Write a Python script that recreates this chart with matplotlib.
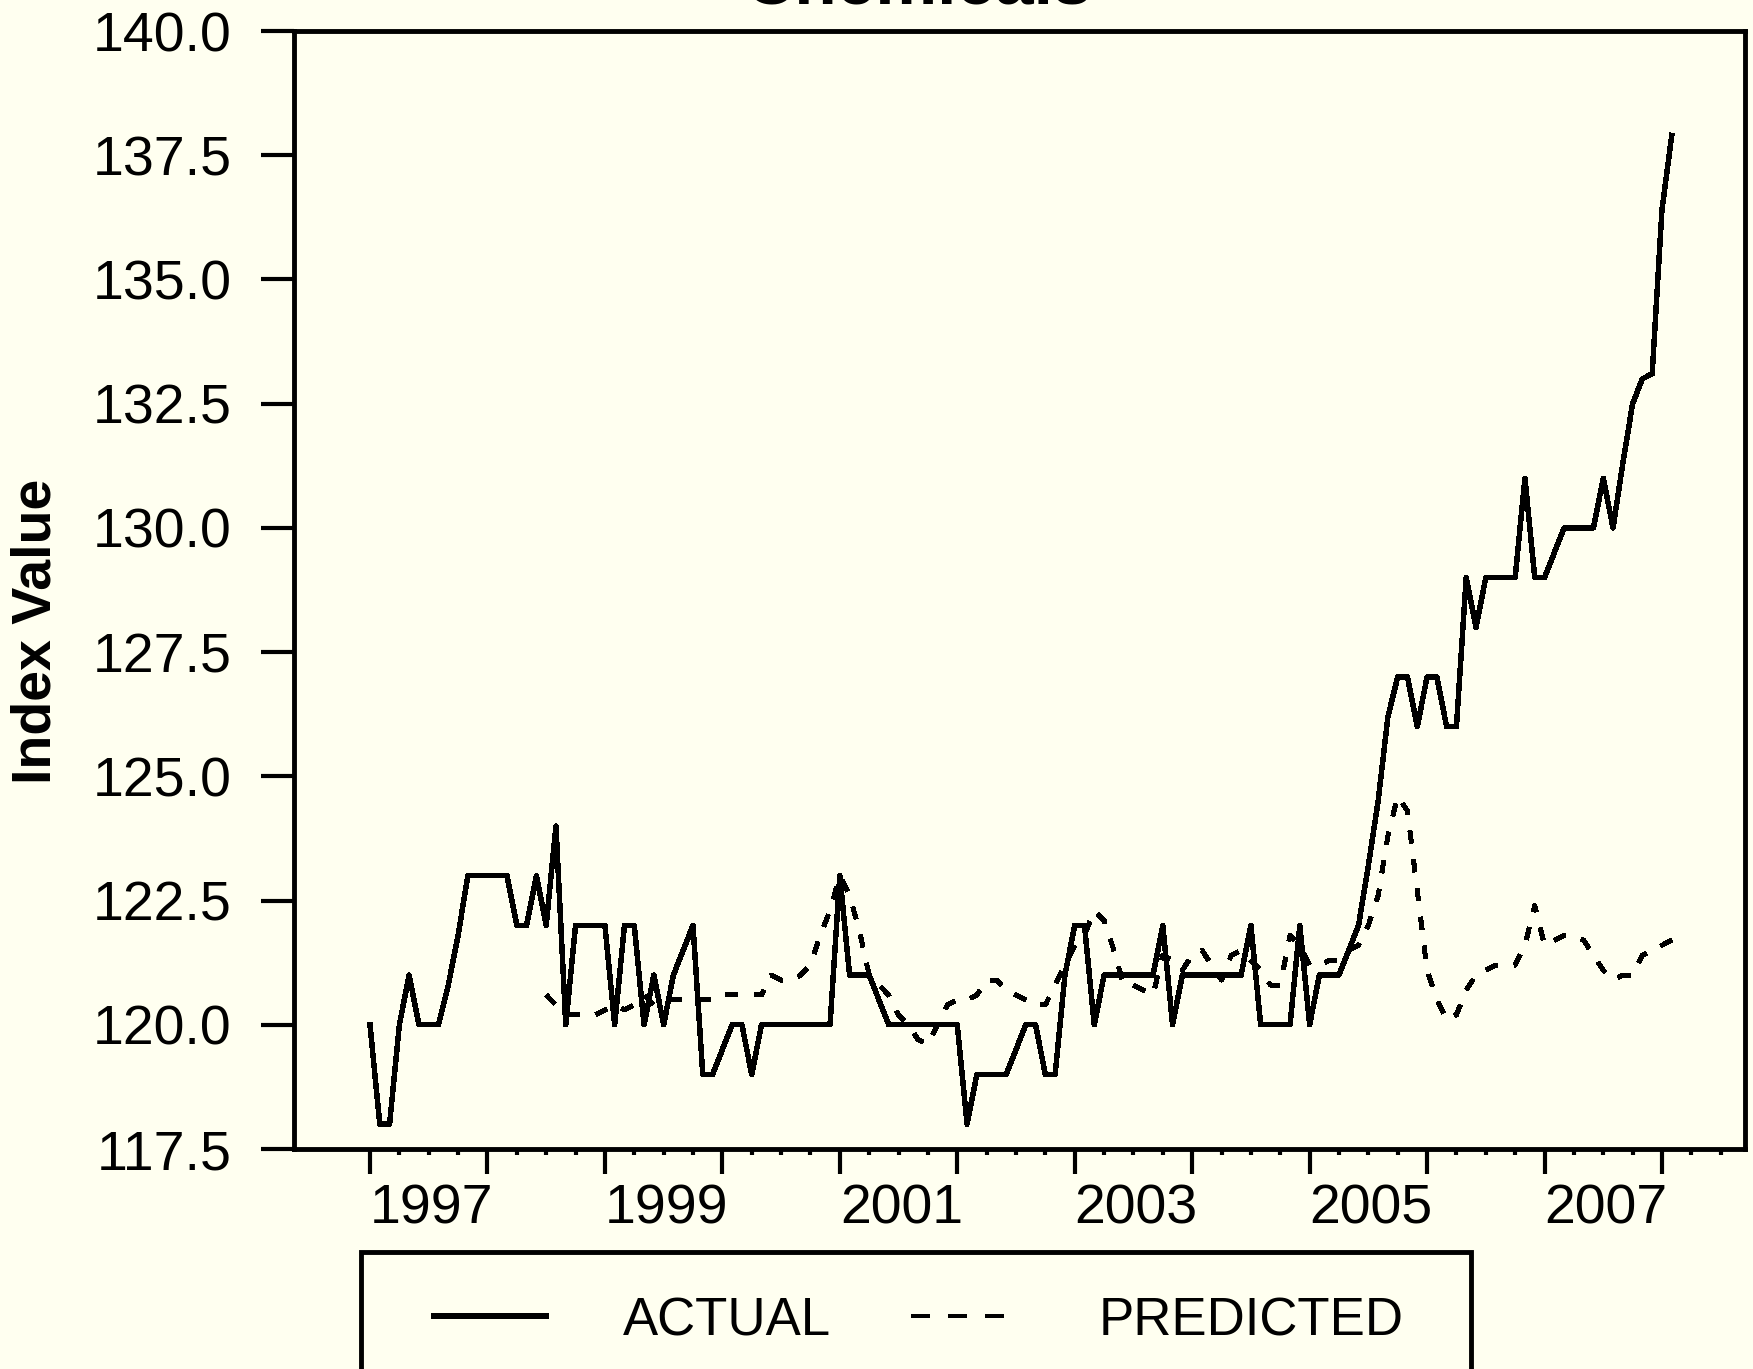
import numpy as np
import matplotlib.pyplot as plt
from matplotlib.lines import Line2D
from matplotlib.patches import Rectangle

# monthly index values, Jan 1997 .. Feb 2008
start_year = 1997
actual = [
    120, 118, 118, 120, 121, 120, 120, 120, 120.8, 121.8, 123, 123,          # 1997
    123, 123, 123, 122, 122, 123, 122, 124, 120, 122, 122, 122,              # 1998
    122, 120, 122, 122, 120, 121, 120, 121, 121.5, 122, 119, 119,            # 1999
    119.5, 120, 120, 119, 120, 120, 120, 120, 120, 120, 120, 120,            # 2000
    123, 121, 121, 121, 120.5, 120, 120, 120, 120, 120, 120, 120,            # 2001
    120, 118, 119, 119, 119, 119, 119.5, 120, 120, 119, 119, 121,            # 2002
    122, 122, 120, 121, 121, 121, 121, 121, 121, 122, 120, 121,              # 2003
    121, 121, 121, 121, 121, 121, 122, 120, 120, 120, 120, 122,              # 2004
    120, 121, 121, 121, 121.5, 122, 123.2, 124.5, 126.2, 127, 127, 126,      # 2005
    127, 127, 126, 126, 129, 128, 129, 129, 129, 129, 131, 129,              # 2006
    129, 129.5, 130, 130, 130, 130, 131, 130, 131.3, 132.5, 133, 133.1,      # 2007
    136.4, 137.9,                                                            # 2008
]
nan = np.nan
predicted = [
    nan, nan, nan, nan, nan, nan, nan, nan, nan, nan, nan, nan,
    nan, nan, nan, nan, nan, nan, 120.6, 120.4, 120.2, 120.2, 120.2, 120.2,
    120.3, 120.4, 120.3, 120.4, 120.6, 120.4, 120.5, 120.5, 120.5, 120.5, 120.5, 120.5,
    120.6, 120.6, 120.6, 120.6, 120.6, 121.0, 120.9, 120.9, 121.0, 121.2, 121.8, 122.3,
    123.0, 122.6, 121.9, 121.0, 120.8, 120.6, 120.2, 120.0, 119.7, 119.6, 120.0, 120.4,
    120.5, 120.5, 120.6, 120.9, 120.9, 120.7, 120.6, 120.5, 120.4, 120.4, 120.8, 121.2,
    121.6, 121.8, 122.3, 122.1, 121.5, 120.8, 120.8, 120.7, 120.6, 121.4, 121.3, 121.1,
    121.4, 121.5, 121.2, 120.9, 121.4, 121.5, 121.3, 121.1, 120.8, 120.8, 121.8, 121.6,
    121.2, 121.2, 121.3, 121.3, 121.5, 121.6, 122.0, 122.6, 123.8, 124.6, 124.3, 122.7,
    121.1, 120.5, 120.1, 120.2, 120.7, 121.0, 121.1, 121.2, 121.2, 121.2, 121.6, 122.4,
    121.6, 121.7, 121.8, 121.8, 121.7, 121.4, 121.1, 120.9, 121.0, 121.0, 121.4, 121.5,
    121.6, 121.7,
]
y_ticks = [117.5, 120.0, 122.5, 125.0, 127.5, 130.0, 132.5, 135.0, 137.5, 140.0]
year_labels = ['1997', '1999', '2001', '2003', '2005', '2007']

BG = '#fffff0'
narrow = ['Liberation Sans Narrow', 'Liberation Sans', 'DejaVu Sans']
heavy = ['Liberation Sans', 'DejaVu Sans']

W, H = 1753, 1369
fig = plt.figure(figsize=(W / 100, H / 100), dpi=100, facecolor=BG)
left, right, top, bottom = 294 / W, 1745 / W, 1 - 31 / H, 1 - 1149 / H
ax = fig.add_axes([left, bottom, right - left, top - bottom], facecolor=BG)

t = start_year + np.arange(len(actual)) / 12
ax.plot(t, actual, color='black', lw=3.2, antialiased=False)
ax.plot(t, predicted, color='black', lw=3.0, dashes=(3, 4), antialiased=False)

ax.set_xlim(1996.353, 2008.707)
ax.set_ylim(117.5, 140)

ax.set_yticks(y_ticks)
ax.set_yticklabels([f'{v:.1f}' for v in y_ticks], fontfamily=narrow, fontsize=40)

years = list(range(1997, 2009))
ax.set_xticks(years)
ax.set_xticklabels([str(y) if str(y) in year_labels else '' for y in years],
                   fontfamily=narrow, fontsize=40, ha='left')
ax.set_xticks(np.arange(1997, 2008.6, 0.25), minor=True)

ax.tick_params(axis='y', direction='out', length=24, width=3, pad=21)
ax.tick_params(axis='x', which='major', direction='out', length=18, width=3, pad=7)
ax.tick_params(axis='x', which='minor', direction='out', length=4.5, width=3)
for s in ax.spines.values():
    s.set_linewidth(3.5)

# title sits almost entirely above the top edge
fig.text(918 / W, 1 - 4 / H, 'Chemicals', ha='center', va='baseline',
         fontsize=50, fontweight='bold', fontfamily=heavy)
fig.text(37 / W, 1 - 631 / H, 'Index Value', rotation=90, ha='center', va='center',
         fontsize=40, fontweight='bold', fontfamily=heavy)

# legend box, running off the bottom of the figure
fig.add_artist(Rectangle((361 / W, -0.1), (1471 - 361) / W, 0.1 + 1 - 1252 / H,
                         transform=fig.transFigure, fill=False, lw=3.5,
                         edgecolor='black', clip_on=False))
ly = 1 - 1316 / H
base = 1 - 1336 / H
fig.add_artist(Line2D([434 / W, 546 / W], [ly, ly], transform=fig.transFigure,
                      color='black', lw=3, antialiased=False))
fig.text(623 / W, base, 'ACTUAL', ha='left', va='baseline', fontsize=38, fontfamily=narrow)
fig.add_artist(Line2D([911 / W, 1006 / W], [ly, ly], transform=fig.transFigure,
                      color='black', lw=3, dashes=(4.5, 4.5), antialiased=False))
fig.text(1099 / W, base, 'PREDICTED', ha='left', va='baseline', fontsize=38, fontfamily=narrow)

fig.savefig('out.png', dpi=100, facecolor=BG)
